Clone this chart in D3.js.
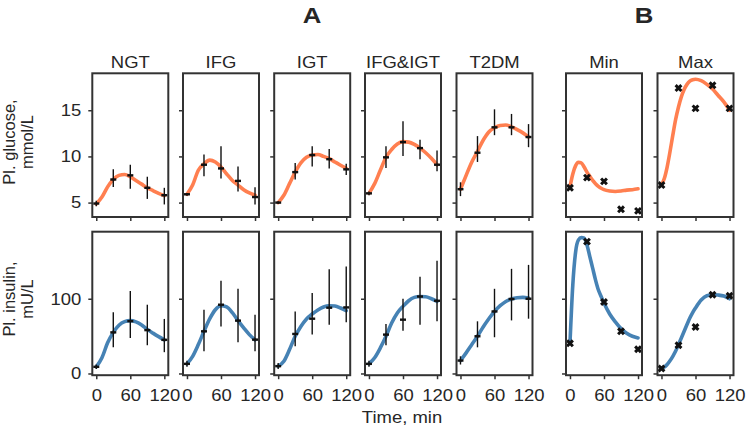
<!DOCTYPE html>
<html><head><meta charset="utf-8">
<script src="https://cdn.jsdelivr.net/npm/d3@7"></script>
<style>
html,body{margin:0;padding:0;background:#fff;}
svg text{font-family:"Liberation Sans",Arial,Helvetica,sans-serif;fill:#262626;}
</style></head><body>
<svg id="chart" width="747" height="435"></svg>
<script>
// ---------------- DATA ----------------
const groupsA = ["NGT", "IFG", "IGT", "IFG&IGT", "T2DM"];
const groupsB = ["Min", "Max"];
const sampleTimes = [0, 30, 60, 90, 120];
const xTicks = [0, 60, 120];
const glucoseTicks = [5, 10, 15];
const insulinTicks = [0, 100];

// Group means (A), lower and upper ends of error bars
const glucoseMean = [
  [4.9, 7.5, 7.95, 6.6, 5.8],
  [5.9, 9.1, 8.7, 7.35, 5.6],
  [5.0, 8.3, 10.15, 9.7, 8.6],
  [6.0, 9.9, 11.55, 10.9, 9.1],
  [6.45, 10.4, 13.15, 13.15, 12.1]
];
const glucoseLow = [
  [4.6, 6.7, 6.5, 5.4, 4.8],
  [5.75, 7.85, 7.6, 6.2, 4.8],
  [4.85, 7.5, 8.9, 8.7, 8.0],
  [5.8, 8.75, 10.05, 9.7, 8.4],
  [5.7, 9.4, 12.3, 12.3, 11.0]
];
const glucoseHigh = [
  [5.2, 8.6, 9.1, 7.8, 6.6],
  [6.05, 10.2, 11.1, 8.9, 6.65],
  [5.15, 9.3, 11.1, 10.8, 9.2],
  [6.2, 11.1, 13.8, 11.8, 10.65],
  [7.2, 12.2, 15.1, 14.6, 13.5]
];
const insulinMean = [
  [8.9, 55, 70, 58, 45],
  [12.9, 56.4, 92, 70.7, 45.3],
  [9.8, 52.9, 73.3, 88, 88.4],
  [12.9, 52, 72, 103, 97.3],
  [17.3, 49.8, 83, 99.6, 100]
];
const insulinLow = [
  [6, 35, 47.5, 37.8, 28.5],
  [9, 29.8, 63, 41.8, 29.8],
  [6, 36.4, 52, 65.3, 68.4],
  [9, 37.8, 57.3, 65.3, 69.8],
  [12, 35, 48.5, 71, 73.3]
];
const insulinHigh = [
  [12, 82, 110.5, 92, 73],
  [17, 85.3, 124, 113.3, 78.7],
  [14, 83, 107.6, 139.6, 143],
  [17, 66.2, 100, 129.3, 150.7],
  [23, 69.8, 113.3, 140, 145.3]
];

// Model fits (A), read every 10 min
const fitTimesA = [0, 10, 20, 30, 40, 50, 60, 70, 80, 90, 100, 110, 120];
const glucoseFitA = [
  [4.85, 5.6, 6.7, 7.5, 7.95, 8.05, 7.8, 7.4, 7.0, 6.6, 6.3, 6.0, 5.75],
  [5.9, 6.9, 8.5, 9.2, 9.6, 9.4, 8.85, 8.1, 7.4, 6.9, 6.4, 6.05, 5.8],
  [5.0, 5.8, 7.05, 8.3, 9.3, 9.9, 10.15, 10.2, 10.0, 9.75, 9.4, 9.05, 8.7],
  [6.0, 7.05, 8.5, 9.9, 10.75, 11.35, 11.6, 11.55, 11.3, 10.9, 10.4, 9.8, 9.1],
  [6.45, 7.95, 9.4, 10.55, 11.75, 12.65, 13.1, 13.35, 13.4, 13.2, 12.9, 12.55, 12.1]
];
const insulinFitA = [
  [8.9, 21, 41, 55, 64.5, 69.3, 70.7, 69, 65, 59, 54, 49.3, 45],
  [12.9, 23, 38.7, 56.4, 73, 85.3, 90.7, 89, 81.3, 70.7, 61, 52, 45],
  [9.8, 16.4, 32, 49.8, 63, 73, 79.6, 85, 89, 90.7, 90.2, 87.6, 84],
  [12.9, 21, 34.2, 49.8, 67.6, 81, 89.8, 97.3, 101.8, 103, 102.7, 100, 96.4],
  [17.3, 27.6, 38.7, 49.8, 62.2, 73.3, 83, 90.7, 96.4, 99.6, 101.3, 101.8, 100.9]
];

// Individuals (B)
const glucoseB = [
  [6.6, 7.7, 7.3, 4.27, 4.1],
  [6.9, 17.4, 15.2, 17.7, 15.2]
];
const insulinB = [
  [40.4, 176.4, 95.6, 56.4, 32.4],
  [6.7, 37.8, 62.2, 105.3, 104]
];
const fitTimesB = [0, 5, 10, 15, 20, 25, 30, 35, 40, 45, 50, 55, 60, 70, 80, 90, 100, 110, 120];
const glucoseFitB = [
  [6.7, 8.1, 9.0, 9.35, 9.3, 8.85, 8.3, 7.85, 7.4, 7.05, 6.75, 6.55, 6.4, 6.25, 6.2, 6.25, 6.35, 6.4, 6.5],
  [6.9, 7.6, 8.85, 10.5, 12.3, 14.0, 15.35, 16.45, 17.25, 17.8, 18.15, 18.3, 18.35, 18.2, 17.8, 17.3, 16.6, 15.9, 15.0]
];
const insulinFitB = [
  [40.4, 118.7, 163, 178.7, 181.8, 181, 172, 156.4, 141, 125.3, 112, 103, 94.2, 79.6, 69, 60, 53.8, 49.8, 47.6],
  [6.7, 8.5, 12, 17, 23, 30, 38.7, 47.5, 56.4, 65.5, 74.2, 81.5, 87.6, 98.2, 104, 105.3, 104.9, 103.6, 100]
];

// ---------------- LAYOUT ----------------
const glucoseColor = "#ff7f50";
const insulinColor = "#4682b4";
const frameColor = "#333333";
const W = 76;
const leftsA = [92.3, 183, 274.2, 365, 456.5];
const leftsB = [566, 657.5];
const rowTop = [73.3, 231.7];
const rowH = [143.7, 143.5];
const FS = 16.5;
const SX = 1.12; // horizontal text stretch seen in the reference

const svg = d3.select("#chart");
svg.append("rect").attr("width", 747).attr("height", 435).attr("fill", "#fff");

const x = d3.scaleLinear().domain([-7, 127]).range([0, W]);
const yG = d3.scaleLinear().domain([3.44, 19.0]).range([rowH[0], 0]);
const yI = d3.scaleLinear().domain([-2.3, 189.7]).range([rowH[1], 0]);

function putText(parent, tx, ty, str, size, anchor, weight) {
  return parent.append("text")
    .attr("transform", `translate(${tx},${ty}) scale(${SX},1)`)
    .attr("text-anchor", anchor || "middle")
    .attr("font-size", size).attr("font-weight", weight || "normal").text(str);
}

function drawPanel(opt) {
  const g = svg.append("g").attr("transform", `translate(${opt.left},${opt.top})`);
  const y = opt.y;
  const h = opt.h;
  const line = d3.line().x(d => x(d[0])).y(d => y(d[1])).curve(d3.curveMonotoneX);
  g.append("path")
    .datum(opt.fitT.map((t, i) => [t, opt.fit[i]]))
    .attr("d", line).attr("fill", "none")
    .attr("stroke", opt.color).attr("stroke-width", 3.6)
    .attr("stroke-linecap", "round").attr("stroke-linejoin", "round");
  if (opt.low) {
    sampleTimes.forEach((t, i) => {
      g.append("line").attr("x1", x(t)).attr("x2", x(t))
        .attr("y1", y(opt.low[i])).attr("y2", y(opt.high[i]))
        .attr("stroke", "#111").attr("stroke-width", 1.4);
      g.append("line").attr("x1", x(t) - 3).attr("x2", x(t) + 3)
        .attr("y1", y(opt.mean[i])).attr("y2", y(opt.mean[i]))
        .attr("stroke", "#111").attr("stroke-width", 2.4);
    });
  } else {
    sampleTimes.forEach((t, i) => {
      const cx = x(t), cy = y(opt.mean[i]), r = 2.9;
      g.append("path")
        .attr("d", `M${cx - r},${cy - r}L${cx + r},${cy + r}M${cx - r},${cy + r}L${cx + r},${cy - r}`)
        .attr("stroke", "#111").attr("stroke-width", 3).attr("fill", "none");
    });
  }
  const ax = d3.axisLeft(y).tickValues(opt.yTicks).tickSize(4).tickPadding(7)
    .tickFormat(opt.showY ? d3.format("d") : () => "");
  const ag = g.append("g").call(ax);
  ag.select(".domain").remove();
  ag.selectAll(".tick line").attr("stroke", frameColor).attr("stroke-width", 1.5);
  ag.selectAll(".tick text").attr("font-size", FS).attr("fill", "#262626")
    .attr("font-family", '"Liberation Sans",Arial,sans-serif')
    .attr("x", 0).attr("transform", `translate(-11,0) scale(${SX},1)`);
  const bx = d3.axisBottom(x).tickValues(xTicks).tickSize(4).tickPadding(10)
    .tickFormat(opt.showX ? d3.format("d") : () => "");
  const bg = g.append("g").attr("transform", `translate(0,${h})`).call(bx);
  bg.select(".domain").remove();
  bg.selectAll(".tick line").attr("stroke", frameColor).attr("stroke-width", 1.5);
  bg.selectAll(".tick text").attr("font-size", FS).attr("fill", "#262626")
    .attr("font-family", '"Liberation Sans",Arial,sans-serif')
    .attr("y", 0).attr("transform", `translate(0,14) scale(${SX},1)`);
  g.append("rect").attr("x", 0).attr("y", 0).attr("width", W).attr("height", h)
    .attr("fill", "none").attr("stroke", frameColor).attr("stroke-width", 2);
  if (opt.title) putText(g, W / 2, -5.3, opt.title, FS);
}

groupsA.forEach((name, i) => {
  drawPanel({left: leftsA[i], top: rowTop[0], h: rowH[0], y: yG, yTicks: glucoseTicks,
    showY: i === 0, showX: false, title: name, color: glucoseColor,
    fit: glucoseFitA[i], fitT: fitTimesA,
    mean: glucoseMean[i], low: glucoseLow[i], high: glucoseHigh[i]});
  drawPanel({left: leftsA[i], top: rowTop[1], h: rowH[1], y: yI, yTicks: insulinTicks,
    showY: i === 0, showX: true, title: null, color: insulinColor,
    fit: insulinFitA[i], fitT: fitTimesA,
    mean: insulinMean[i], low: insulinLow[i], high: insulinHigh[i]});
});
groupsB.forEach((name, i) => {
  drawPanel({left: leftsB[i], top: rowTop[0], h: rowH[0], y: yG, yTicks: glucoseTicks,
    showY: false, showX: false, title: name, color: glucoseColor,
    fit: glucoseFitB[i], fitT: fitTimesB, mean: glucoseB[i]});
  drawPanel({left: leftsB[i], top: rowTop[1], h: rowH[1], y: yI, yTicks: insulinTicks,
    showY: false, showX: true, title: null, color: insulinColor,
    fit: insulinFitB[i], fitT: fitTimesB, mean: insulinB[i]});
});

putText(svg, 312, 23.3, "A", 23, "middle", "bold");
putText(svg, 644, 23.3, "B", 23, "middle", "bold");

function ylab(lines, cy) {
  const xs = [15, 33.3];
  lines.forEach((t, i) => {
    svg.append("text").attr("transform", `translate(${xs[i]},${cy}) rotate(-90)`)
      .attr("text-anchor", "middle").attr("font-size", FS).text(t);
  });
}
ylab(["Pl. glucose,", "mmol/L"], 142);
ylab(["Pl. insulin,", "mU/L"], 299);
putText(svg, 402, 422.5, "Time, min", FS);
</script>
</body></html>
